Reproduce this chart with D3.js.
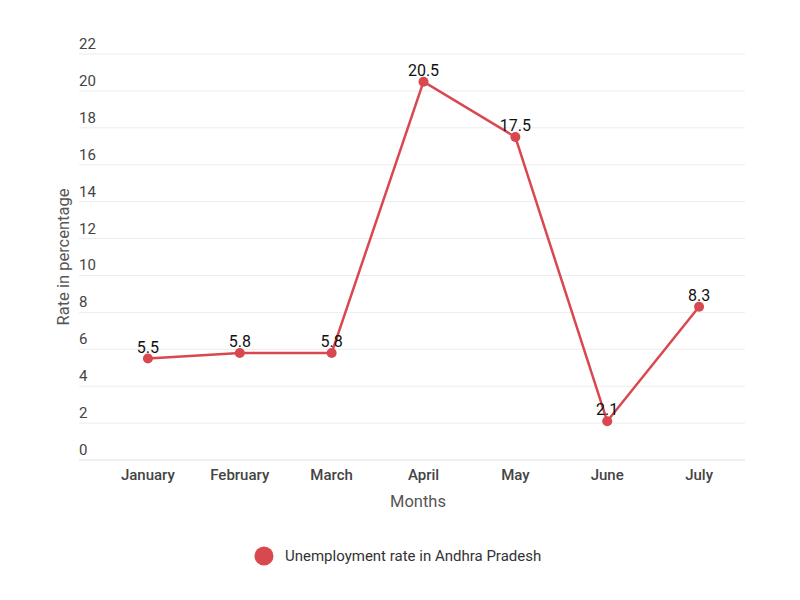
<!DOCTYPE html>
<html><head><meta charset="utf-8">
<script src="https://cdn.jsdelivr.net/npm/d3@7"></script>
<style>body{margin:0;background:#fff;font-family:Roboto,sans-serif;}</style>
</head><body><svg id="c" width="800" height="600"></svg>
<script>
const months = ["January","February","March","April","May","June","July"];
const rates = [5.5,5.8,5.8,20.5,17.5,2.1,8.3];
const yTicks = [0,2,4,6,8,10,12,14,16,18,20,22];
const seriesName = "Unemployment rate in Andhra Pradesh";
const color = "#d9484f";

const svg = d3.select("#c");
const x = d3.scalePoint().domain(months).range([102,745]).padding(0.5);
const y = d3.scaleLinear().domain([0,22]).range([460,54]);

// gridlines and y labels
const g = svg.append("g");
g.selectAll("line.grid").data(yTicks).enter().append("line")
  .attr("x1",79).attr("x2",745).attr("y1",d=>y(d)).attr("y2",d=>y(d))
  .attr("stroke",d=>d===0?"#e0e0e0":"#ececec").attr("stroke-width",1);
g.selectAll("text.yl").data(yTicks).enter().append("text")
  .attr("x",79).attr("y",d=>y(d)-5).attr("fill","#444").attr("font-size",15)
  .text(d=>d);

// x labels
svg.selectAll("text.xl").data(months).enter().append("text")
  .attr("x",d=>x(d)).attr("y",480).attr("text-anchor","middle")
  .attr("fill","#444").attr("font-size",15).attr("font-weight",500).text(d=>d);

// axis titles
svg.append("text").attr("x",418).attr("y",507).attr("text-anchor","middle")
  .attr("fill","#555").attr("font-size",16.5).text("Months");
svg.append("text").attr("transform","translate(69,257) rotate(-90)").attr("text-anchor","middle")
  .attr("fill","#555").attr("font-size",16.5).text("Rate in percentage");

// line
const line = d3.line().x((d,i)=>x(months[i])).y(d=>y(d));
svg.append("path").datum(rates).attr("d",line).attr("fill","none")
  .attr("stroke",color).attr("stroke-width",2.5);
svg.selectAll("circle.pt").data(rates).enter().append("circle")
  .attr("cx",(d,i)=>x(months[i])).attr("cy",d=>y(d)).attr("r",5).attr("fill",color);
svg.selectAll("text.dl").data(rates).enter().append("text")
  .attr("x",(d,i)=>x(months[i])).attr("y",d=>y(d)-6).attr("text-anchor","middle")
  .attr("fill","#111").attr("font-size",16).text(d=>d);

// legend
svg.append("circle").attr("cx",264).attr("cy",556).attr("r",9.5).attr("fill",color);
svg.append("text").attr("x",285).attr("y",561).attr("fill","#333").attr("font-size",15)
  .text(seriesName);
</script></body></html>
